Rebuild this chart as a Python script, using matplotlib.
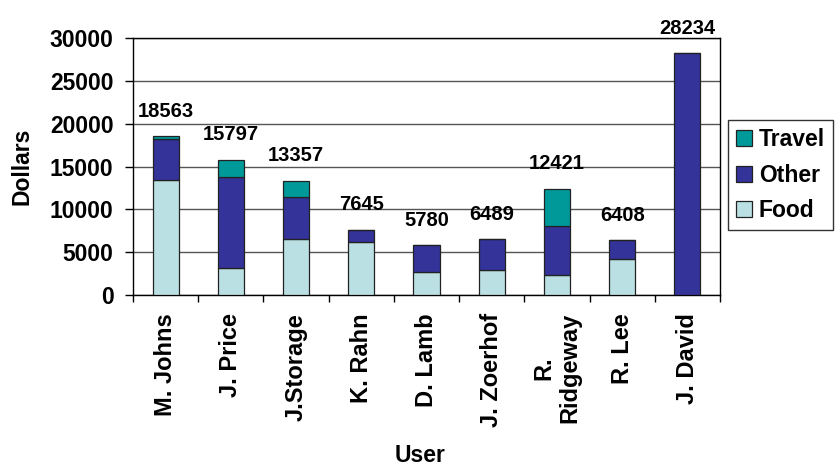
import numpy as np
import matplotlib
matplotlib.use("Agg")
import matplotlib.pyplot as plt

users = ["M. Johns", "J. Price", "J.Storage", "K. Rahn", "D. Lamb",
         "J. Zoerhof", "R.\nRidgeway", "R. Lee", "J. David"]
food = [13400, 3100, 6550, 6150, 2720, 2880, 2300, 4150, 0]
other = [4800, 10700, 4850, 1495, 3060, 3609, 5720, 2258, 28234]
travel = [363, 1997, 1957, 0, 0, 0, 4401, 0, 0]
totals = [18563, 15797, 13357, 7645, 5780, 6489, 12421, 6408, 28234]

plt.rcParams["font.family"] = ["Liberation Sans", "DejaVu Sans"]
plt.rcParams["font.weight"] = "bold"
FS = 16.5

fig = plt.figure(figsize=(8.38, 4.67), dpi=100)
ax = fig.add_axes([133 / 838, 1 - 295 / 467, (720 - 133) / 838, (295 - 38) / 467])

x = np.arange(len(users))
w = 0.4
edge = dict(edgecolor="#222222", linewidth=0.9, zorder=3)
ax.bar(x, food, w, color="#BBE0E3", label="Food", **edge)
ax.bar(x, other, w, bottom=food, color="#333399", label="Other", **edge)
ax.bar(x, travel, w, bottom=np.add(food, other), color="#009999", label="Travel", **edge)

for xi, t in zip(x, totals):
    ax.annotate(str(t), (xi, t), xytext=(0, 11), textcoords="offset points",
                ha="center", va="bottom", fontsize=14.5, fontweight="bold")

ax.set_xlim(-0.5, len(users) - 0.5)
ax.set_ylim(0, 30000)
ax.set_yticks(range(0, 30001, 5000))
ax.yaxis.grid(True, color="#555555", linewidth=1, zorder=0)
ax.set_axisbelow(True)

ax.set_xticks(x)
ax.set_xticklabels(users, rotation=90, va="top", ha="center",
                   multialignment="center", fontsize=FS + 0.5, fontweight="bold")
ax.tick_params(axis="x", which="major", length=0, pad=13)
ax.set_xticks(np.arange(-0.5, len(users), 1), minor=True)
ax.tick_params(axis="x", which="minor", length=5, width=1, direction="out")
ax.tick_params(axis="y", length=6, width=1, labelsize=FS, pad=8)
for lbl in ax.get_yticklabels():
    lbl.set_fontweight("bold")

for s in ax.spines.values():
    s.set_linewidth(1)
    s.set_color("black")

ax.set_ylabel("Dollars", fontsize=FS, fontweight="bold")
ax.yaxis.set_label_coords((34 - 133) / 587, 0.5)
fig.text(420 / 838, 1 - 456 / 467, "User", ha="center", va="center",
         fontsize=FS, fontweight="bold")

h, l = ax.get_legend_handles_labels()
leg = fig.legend(h[::-1], l[::-1], loc="upper left",
                 bbox_to_anchor=(728 / 838, 1 - 120 / 467),
                 frameon=True, fancybox=False, edgecolor="black",
                 prop=dict(size=FS, weight="bold"),
                 handlelength=0.7, handleheight=0.7, handletextpad=0.3,
                 labelspacing=0.55, borderpad=0.35, borderaxespad=0)
leg.get_frame().set_linewidth(1)

fig.savefig("out.png", dpi=100)
